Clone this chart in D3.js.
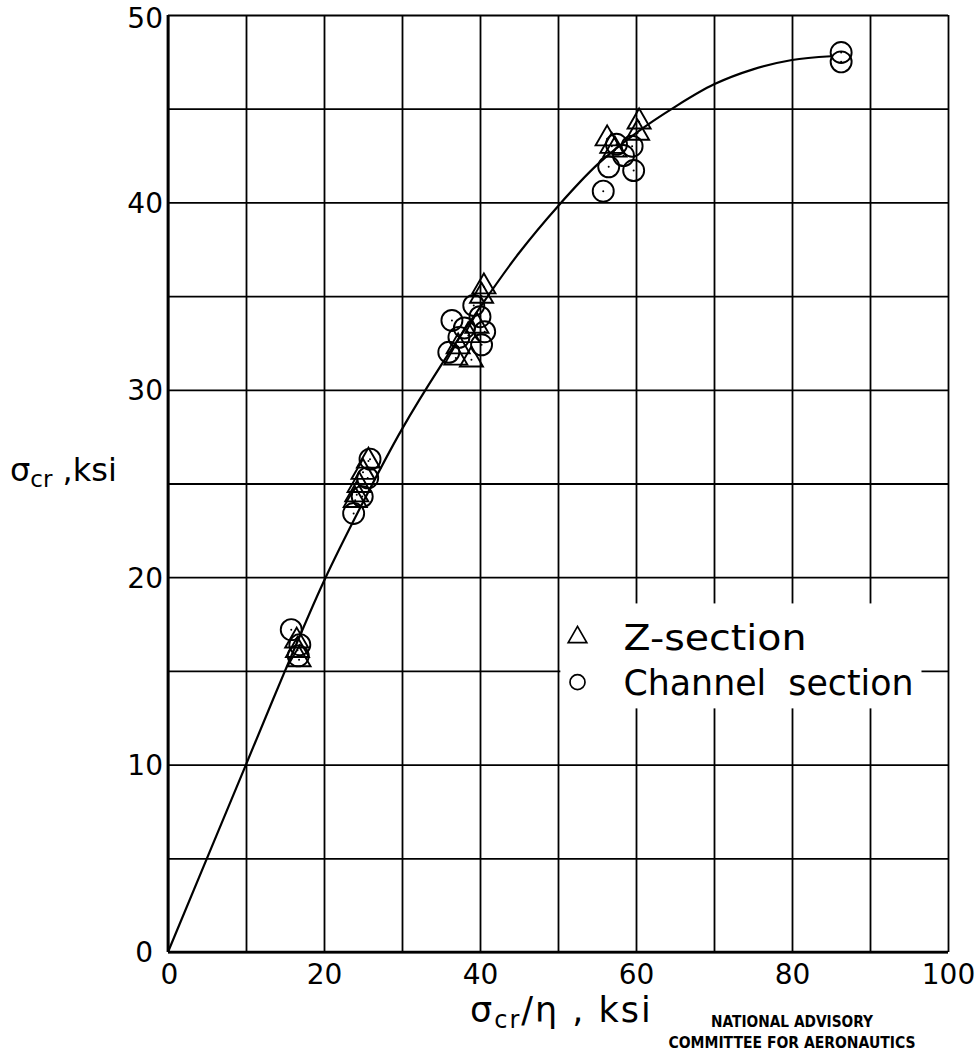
<!DOCTYPE html>
<html>
<head>
<meta charset="utf-8">
<script src="https://cdn.jsdelivr.net/npm/d3@7"></script>
<style>
  body { margin: 0; background: #fff; }
  text { font-family: "DejaVu Sans", sans-serif; fill: #000; }
</style>
</head>
<body>
<script>
const WIDTH = 978
const HEIGHT = 1052
const margin = { top: 15, bottom: 100, left: 168, right: 30 }

// faired curve through the test data
const curveX = [0, 10, 15, 20, 25, 30, 35, 40, 45, 50, 55, 60, 65, 70, 75, 80, 85]
const curveY = [0, 10, 15, 19.8, 24, 27.9, 31.3, 34.4, 37.3, 39.8, 42.0, 43.7, 45.1, 46.3, 47.1, 47.6, 47.8]

// Z-section tests
const zX = [16.5, 16.6, 16.8, 25.7, 25.0, 24.5, 24.2, 24.0, 40.5, 40.2, 37.2, 36.9, 38.9, 38.5, 39.6, 56.3, 56.9, 57.3, 60.4, 60.2]
const zY = [16.6, 16.1, 15.6, 26.2, 25.6, 24.9, 24.4, 24.1, 35.5, 35.0, 32.3, 31.7, 31.6, 32.9, 33.4, 43.4, 43.0, 42.8, 44.3, 43.7]

// channel-section tests
const chX = [15.8, 16.9, 16.7, 25.9, 25.6, 24.9, 23.8, 39.2, 36.4, 40.0, 40.6, 38.0, 37.3, 40.2, 36.0, 55.8, 56.5, 59.7, 58.4, 59.5, 57.5, 86.3, 86.3]
const chY = [17.2, 16.4, 15.8, 26.3, 25.3, 24.3, 23.4, 34.5, 33.7, 33.9, 33.1, 33.3, 32.8, 32.4, 32.0, 40.6, 41.9, 41.7, 42.5, 43.0, 43.1, 48.0, 47.5]

const xLabels = [0, 20, 40, 60, 80, 100]
const yLabels = [0, 10, 20, 30, 40, 50]
const legendNames = ["Z-section", "Channel  section"]

svg = d3.select('body').append('svg')
    .attr('width', WIDTH)
    .attr('height', HEIGHT);

x_scale = d3.scaleLinear()
    .domain([0, 100])
    .range([margin.left, WIDTH - margin.right]);

y_scale = d3.scaleLinear()
    .domain([0, 50])
    .range([HEIGHT - margin.bottom, margin.top]);

const plotW = x_scale(100) - x_scale(0)
const plotH = y_scale(0) - y_scale(50)

// grid
svg.append("g")
    .attr("transform", `translate(0,${y_scale(0)})`)
    .call(d3.axisBottom(x_scale).tickValues(d3.range(0, 101, 10)).tickSize(-plotH).tickFormat(""))
    .call(g => g.select(".domain").remove())
    .selectAll("line").attr("stroke", "#000").attr("stroke-width", 1.8);

svg.append("g")
    .attr("transform", `translate(${x_scale(0)},0)`)
    .call(d3.axisLeft(y_scale).tickValues(d3.range(0, 51, 5)).tickSize(-plotW).tickFormat(""))
    .call(g => g.select(".domain").remove())
    .selectAll("line").attr("stroke", "#000").attr("stroke-width", 1.8);

// heavier left and bottom axis
svg.append("line")
    .attr("x1", x_scale(0)).attr("x2", x_scale(0))
    .attr("y1", y_scale(0)).attr("y2", y_scale(50))
    .attr("stroke", "#000").attr("stroke-width", 2.8);
svg.append("line")
    .attr("x1", x_scale(0)).attr("x2", x_scale(100))
    .attr("y1", y_scale(0)).attr("y2", y_scale(0))
    .attr("stroke", "#000").attr("stroke-width", 2.4);

// tick labels
svg.append("g")
    .attr("transform", `translate(0,${y_scale(0)})`)
    .call(d3.axisBottom(x_scale).tickValues(xLabels).tickSize(0).tickPadding(12))
    .call(g => g.select(".domain").remove())
    .selectAll("text")
    .style("font-size", "28px")
    .attr("dx", (d, i) => i == 0 ? 1 : 0);

svg.append("g")
    .attr("transform", `translate(${x_scale(0)},0)`)
    .call(d3.axisLeft(y_scale).tickValues(yLabels).tickSize(0).tickPadding(5))
    .call(g => g.select(".domain").remove())
    .selectAll("text")
    .style("font-size", "28px")
    .attr("dx", (d) => d == 0 ? -10 : 0)
    .attr("dy", (d) => d == 50 ? "0.45em" : "0.35em");

// faired curve
line = d3.line()
    .x((d, i) => x_scale(curveX[i]))
    .y((d, i) => y_scale(curveY[i]))
    .curve(d3.curveCatmullRom);

svg.append("path")
    .attr("d", line(curveX))
    .attr("fill", "none")
    .attr("stroke", "#000")
    .attr("stroke-width", 2.2);

// legend box hides grid
svg.append("rect")
    .attr("x", x_scale(50.3)).attr("y", y_scale(18.6))
    .attr("width", x_scale(96.6) - x_scale(50.3))
    .attr("height", y_scale(13) - y_scale(18.6))
    .attr("fill", "#fff");

const triPath = d3.symbol().type(d3.symbolTriangle).size(230)()

// data points
const circles = svg.append("g")
    .selectAll("g")
    .data(chX)
    .join("g")
    .attr("transform", (d, i) => `translate(${x_scale(d)},${y_scale(chY[i])})`);
circles.append("circle")
    .attr("r", 10.5)
    .attr("fill", "none")
    .attr("stroke", "#000")
    .attr("stroke-width", 1.9);
circles.append("circle")
    .attr("r", 1)
    .attr("fill", "#000");

const tris = svg.append("g")
    .selectAll("g")
    .data(zX)
    .join("g")
    .attr("transform", (d, i) => `translate(${x_scale(d)},${y_scale(zY[i])})`);
tris.append("path")
    .attr("d", triPath)
    .attr("fill", "none")
    .attr("stroke", "#000")
    .attr("stroke-width", 1.9);
tris.append("circle")
    .attr("r", 1)
    .attr("fill", "#000");

// legend
const lg = svg.append("g");
lg.append("path")
    .attr("d", d3.symbol().type(d3.symbolTriangle).size(150)())
    .attr("transform", `translate(${x_scale(52.5)},${y_scale(16.8)})`)
    .attr("fill", "none").attr("stroke", "#000").attr("stroke-width", 1.7);
lg.append("circle")
    .attr("cx", x_scale(52.5)).attr("cy", y_scale(14.4))
    .attr("r", 7.5)
    .attr("fill", "none").attr("stroke", "#000").attr("stroke-width", 1.7);
lg.selectAll("text")
    .data(legendNames)
    .join("text")
    .attr("x", x_scale(58.4))
    .attr("y", (d, i) => y_scale(i == 0 ? 16.8 : 14.4))
    .attr("dy", "0.36em")
    .attr("xml:space", "preserve")
    .attr("textLength", (d, i) => i == 0 ? 183 : 290)
    .attr("lengthAdjust", "spacingAndGlyphs")
    .style("font-size", "36px")
    .style("white-space", "pre")
    .text(d => d);

// axis titles
const yt = svg.append("text")
    .attr("x", 10).attr("y", 481)
    .style("font-size", "32px");
yt.append("tspan").text("σ");
yt.append("tspan").attr("dy", 6).style("font-size", "23px").text("cr");
yt.append("tspan").attr("dy", -6).text(" ,ksi");

const xt = svg.append("text")
    .attr("x", 470).attr("y", 1022)
    .style("font-size", "35px")
    .style("letter-spacing", "2px");
xt.append("tspan").text("σ");
xt.append("tspan").attr("dy", 6).style("font-size", "24px").text("cr");
xt.append("tspan").attr("dy", -6).text("/η , ksi");

svg.append("g")
    .selectAll("text")
    .data(["NATIONAL ADVISORY", "COMMITTEE FOR AERONAUTICS"])
    .join("text")
    .attr("x", 792)
    .attr("y", (d, i) => 1027 + i * 21)
    .attr("text-anchor", "middle")
    .attr("textLength", (d, i) => i == 0 ? 162 : 247)
    .attr("lengthAdjust", "spacingAndGlyphs")
    .style("font-weight", "bold")
    .style("font-size", "16px")
    .text(d => d);
</script>
</body>
</html>
